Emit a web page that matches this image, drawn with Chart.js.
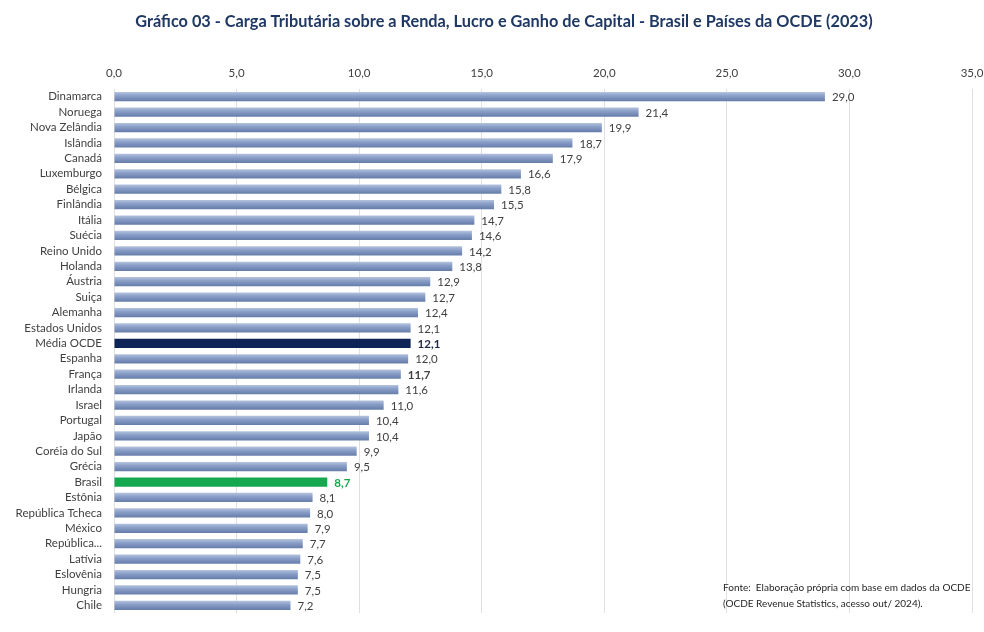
<!DOCTYPE html>
<html>
<head>
<meta charset="utf-8">
<script src="https://cdn.jsdelivr.net/npm/chart.js@4.4.1/dist/chart.umd.min.js"></script>
<style>
  html, body { margin: 0; padding: 0; background: #fff; }
  #wrap { width: 984px; height: 632px; }
</style>
</head>
<body>
<div id="wrap"><canvas id="chart" width="984" height="632"></canvas></div>
<script>
// Data
const countries = [
    'Dinamarca', 'Noruega', 'Nova Zelândia', 'Islândia', 'Canadá', 'Luxemburgo',
    'Bélgica', 'Finlândia', 'Itália', 'Suécia', 'Reino Unido', 'Holanda',
    'Áustria', 'Suiça', 'Alemanha', 'Estados Unidos', 'Média OCDE', 'Espanha',
    'França', 'Irlanda', 'Israel', 'Portugal', 'Japão', 'Coréia do Sul',
    'Grécia', 'Brasil', 'Estônia', 'República Tcheca', 'México', 'República...',
    'Latívia', 'Eslovênia', 'Hungria', 'Chile'
];
const cargaTributaria = [
    29.0, 21.4, 19.9, 18.7, 17.9, 16.6,
    15.8, 15.5, 14.7, 14.6, 14.2, 13.8,
    12.9, 12.7, 12.4, 12.1, 12.1, 12.0,
    11.7, 11.6, 11.0, 10.4, 10.4, 9.9,
    9.5, 8.7, 8.1, 8.0, 7.9, 7.7,
    7.6, 7.5, 7.5, 7.2
];
const xTicks = [0, 5, 10, 15, 20, 25, 30, 35];
const boldLabels = ['Média OCDE', 'França', 'Brasil'];

const FONT = 'Lato, "Open Sans", sans-serif';
const TITLE = 'Gráfico 03 - Carga Tributária sobre a Renda, Lucro e Ganho de Capital - Brasil e Países da OCDE (2023)';

function fmt(v) {
    return v.toFixed(1).replace('.', ',');
}

// Bar fill: shaded blue gradient, dark navy for the OECD average, green for Brazil
function barColor(ctx) {
    const name = countries[ctx.dataIndex];
    if (name === 'Média OCDE') return '#0E2356';
    if (name === 'Brasil') return '#16A84E';
    const chart = ctx.chart;
    const y = chart.scales && chart.scales.y;
    if (!chart.chartArea || !y) return '#8096C0';
    const c = y.getPixelForValue(ctx.dataIndex);
    const g = chart.ctx.createLinearGradient(0, c - 4.5, 0, c + 4.5);
    g.addColorStop(0, '#B3C2DD');
    g.addColorStop(0.4, '#8A9FC8');
    g.addColorStop(1, '#667DAA');
    return g;
}

// Title, centred like the original
const titlePlugin = {
    id: 'titleText',
    afterDraw(chart) {
        const ctx = chart.ctx;
        ctx.save();
        ctx.font = 'bold 16.3px ' + FONT;
        ctx.fillStyle = '#1F3864';
        ctx.textAlign = 'center';
        ctx.textBaseline = 'middle';
        ctx.fillText(TITLE, 504, 22);
        ctx.restore();
    }
};

// Value labels to the right of each bar
const valueLabels = {
    id: 'valueLabels',
    afterDatasetsDraw(chart) {
        const ctx = chart.ctx;
        const meta = chart.getDatasetMeta(0);
        ctx.save();
        ctx.textBaseline = 'middle';
        ctx.textAlign = 'left';
        meta.data.forEach((bar, i) => {
            const name = countries[i];
            const bold = boldLabels.includes(name);
            ctx.font = (bold ? 'bold ' : '') + '11.5px ' + FONT;
            ctx.fillStyle = name === 'Brasil' ? '#16A84E' : (name === 'Média OCDE' ? '#1F2A44' : '#404040');
            ctx.fillText(fmt(cargaTributaria[i]), bar.x + 7, bar.y + 1);
        });
        ctx.restore();
    }
};

// Source note, bottom right
const sourceNote = {
    id: 'sourceNote',
    afterDraw(chart) {
        const ctx = chart.ctx;
        ctx.save();
        ctx.font = '10px ' + FONT;
        ctx.fillStyle = '#262626';
        ctx.textBaseline = 'middle';
        ctx.fillText('Fonte:  Elaboração própria com base em dados da OCDE', 723, 588);
        ctx.fillText('(OCDE Revenue Statistics, acesso out/ 2024).', 723, 604);
        ctx.restore();
    }
};

new Chart(document.getElementById('chart'), {
    type: 'bar',
    data: {
        labels: countries,
        datasets: [{
            data: cargaTributaria,
            backgroundColor: barColor,
            borderWidth: 0,
            categoryPercentage: 0.6,
            barPercentage: 1
        }]
    },
    options: {
        indexAxis: 'y',
        responsive: false,
        animation: false,
        layout: { padding: { left: 0, right: 0, top: 31, bottom: 15 } },
        plugins: {
            legend: { display: false },
            tooltip: { enabled: false },
            title: { display: false }
        },
        scales: {
            x: {
                position: 'top',
                min: 0,
                max: 35,
                afterBuildTicks(axis) {
                    axis.ticks = xTicks.map(v => ({ value: v }));
                },
                afterFit(axis) {
                    axis.height = 58;
                    axis.paddingRight = 12;
                },
                ticks: {
                    color: '#404040',
                    font: { family: FONT, size: 11.5 },
                    padding: 9,
                    callback: v => fmt(v)
                },
                grid: { color: '#E0E0E0', drawTicks: false },
                border: { display: false }
            },
            y: {
                afterFit(axis) { axis.width = 114; },
                ticks: {
                    color: '#404040',
                    font: { family: FONT, size: 11.5 },
                    padding: 12,
                    autoSkip: false
                },
                grid: { display: false, drawTicks: false },
                border: { display: false }
            }
        }
    },
    plugins: [titlePlugin, valueLabels, sourceNote]
});
</script>
</body>
</html>
